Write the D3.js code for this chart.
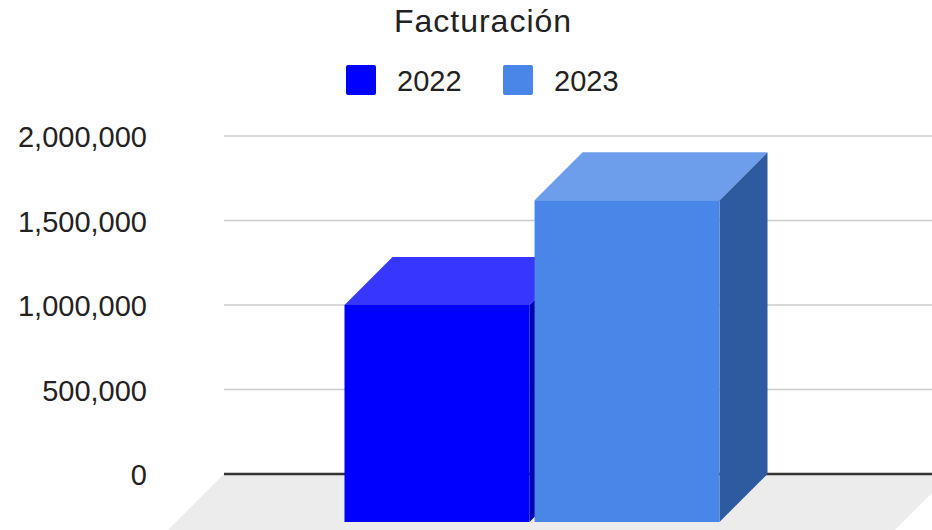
<!DOCTYPE html>
<html>
<head>
	<meta charset="utf-8">
	<title>Facturación</title>
	<script src="https://d3js.org/d3.v7.min.js"></script>
	<style>
		body { margin: 0; background: #fff; }
		text { font-family: "Liberation Sans", Arial, sans-serif; fill: #222; }
	</style>
</head>
<body>
	<div id="chart"></div>

	<script type="text/javascript">
		// data
		var categories = [""];
		var seriesNames = ["2022", "2023"];
		var seriesValues = [1000000, 1620000];
		var yTicks = [0, 500000, 1000000, 1500000, 2000000];

		var frontColors = ["#0000ff", "#4a86e8"];
		var topColors = ["#3636ff", "#6d9eeb"];
		var sideColors = ["#0000b4", "#2e5a9f"];

		var width = 932;
		var height = 530;
		var depth = 48;

		var svg = d3.select("#chart")
			.append("svg")
			.attr("width", width)
			.attr("height", height);

		var y = d3.scaleLinear()
			.domain([0, 2000000])
			.range([474, 136]);

		var x0 = d3.scaleBand()
			.domain(categories)
			.range([224, 936])
			.padding(0.31);

		var x1 = d3.scaleBand()
			.domain(seriesNames)
			.range([0, x0.bandwidth()])
			.paddingInner(0.027);

		var wallLeft = 224, wallRight = 951;

		// floor
		var floorDepth = 110;
		svg.append("polygon")
			.attr("points", [
				[wallLeft, y(0)], [wallRight, y(0)],
				[wallRight - floorDepth, y(0) + floorDepth], [wallLeft - floorDepth, y(0) + floorDepth]
			].join(" "))
			.style("fill", "#ececec");

		// gridlines + labels
		var grid = svg.append("g");
		grid.selectAll("line")
			.data(yTicks)
			.enter().append("line")
			.attr("x1", wallLeft)
			.attr("x2", wallRight)
			.attr("y1", function(d){ return y(d); })
			.attr("y2", function(d){ return y(d); })
			.style("stroke", function(d){ return d == 0 ? "#333" : "#ccc"; })
			.style("stroke-width", function(d){ return d == 0 ? 2.5 : 1.5; });

		grid.selectAll("text")
			.data(yTicks)
			.enter().append("text")
			.attr("x", 147)
			.attr("y", function(d){ return y(d) + 11; })
			.style("text-anchor", "end")
			.style("font-size", "29px")
			.text(function(d){ return d3.format(",")(d); });

		// 3d bars
		var bars = svg.append("g")
			.selectAll("g")
			.data(seriesNames.map(function(s, i){ return {name: s, value: seriesValues[i], i: i}; }))
			.enter().append("g");

		function barBox(d){
			var xl = x0(categories[0]) + x1(d.name) - depth;
			return {xl: xl, xr: xl + x1.bandwidth(), yt: y(d.value), yb: y(0) + depth};
		}

		bars.append("polygon")
			.attr("points", function(d){
				var b = barBox(d);
				return [[b.xr, b.yt], [b.xr + depth, b.yt - depth], [b.xr + depth, b.yb - depth], [b.xr, b.yb]].join(" ");
			})
			.style("fill", function(d){ return sideColors[d.i]; });

		bars.append("polygon")
			.attr("points", function(d){
				var b = barBox(d);
				return [[b.xl, b.yt], [b.xl + depth, b.yt - depth], [b.xr + depth, b.yt - depth], [b.xr, b.yt]].join(" ");
			})
			.style("fill", function(d){ return topColors[d.i]; });

		bars.append("rect")
			.attr("x", function(d){ return barBox(d).xl; })
			.attr("y", function(d){ return barBox(d).yt; })
			.attr("width", x1.bandwidth())
			.attr("height", function(d){ var b = barBox(d); return b.yb - b.yt; })
			.style("fill", function(d){ return frontColors[d.i]; });

		// title
		svg.append("text")
			.attr("x", 483)
			.attr("y", 32)
			.style("text-anchor", "middle")
			.style("font-size", "32px")
			.style("letter-spacing", "1px")
			.text("Facturación");

		// legend
		var legendX = [346, 503];
		var legend = svg.append("g")
			.selectAll("g")
			.data(seriesNames)
			.enter().append("g")
			.attr("transform", function(d, i){ return "translate(" + legendX[i] + ",65)"; });

		legend.append("rect")
			.attr("width", 30)
			.attr("height", 30)
			.attr("rx", 2)
			.style("fill", function(d, i){ return frontColors[i]; });

		legend.append("text")
			.attr("x", 51)
			.attr("y", 26)
			.style("font-size", "29px")
			.text(function(d){ return d; });
	</script>
</body>
</html>
